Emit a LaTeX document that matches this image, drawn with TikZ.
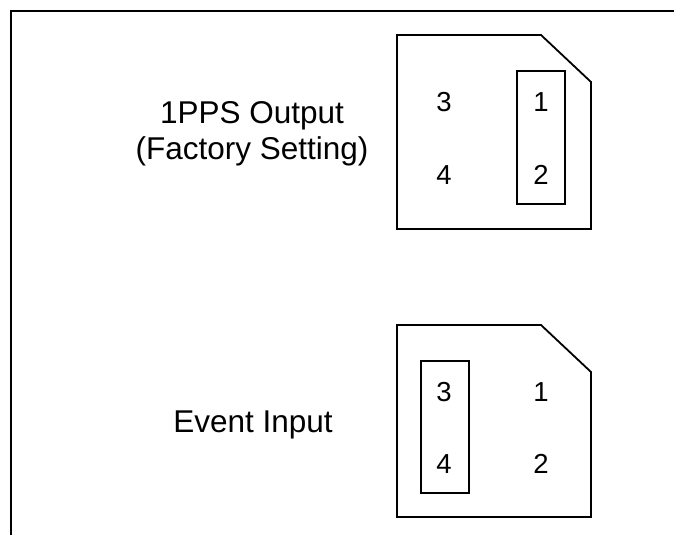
\documentclass[tikz,border=0pt]{standalone}
\usepackage{fontspec}
\setmainfont{Liberation Sans}
\begin{document}
\begin{tikzpicture}[x=1pt,y=-1pt,
  line join=miter,
  frameline/.style={line width=2.6pt},
  blockline/.style={line width=1.8pt},
  lbl/.style={font=\fontsize{31.5}{36}\selectfont, inner sep=0pt, align=center},
  pin/.style={font=\fontsize{27.5}{30}\selectfont, inner sep=0pt}]
\useasboundingbox (0,0) rectangle (674,535);
% outer frame
\draw[frameline] (11,535) -- (11,11) -- (676,11);
% top header block
\draw[blockline] (397,35) -- (541,35) -- (591,82) -- (591,229) -- (397,229) -- cycle;
\draw[blockline] (517,71) rectangle (565,204);
\node[pin] (t3) at (444,102) {3};
\node[pin] (t4) at (444,175) {4};
\node[pin] (t1) at (541,102) {1};
\node[pin] (t2) at (541,175) {2};
\node[lbl, anchor=base] (pps) at (252,159) {1PPS Output\\(Factory Setting)};
% bottom header block
\draw[blockline] (397,325) -- (541,325) -- (591,372) -- (591,517) -- (397,517) -- cycle;
\draw[blockline] (421,361) rectangle (469,493);
\node[pin] (b3) at (444,392) {3};
\node[pin] (b4) at (444,464) {4};
\node[pin] (b1) at (541,392) {1};
\node[pin] (b2) at (541,464) {2};
\node[lbl, anchor=base] (evt) at (253,432) {Event Input};
\end{tikzpicture}
\end{document}
